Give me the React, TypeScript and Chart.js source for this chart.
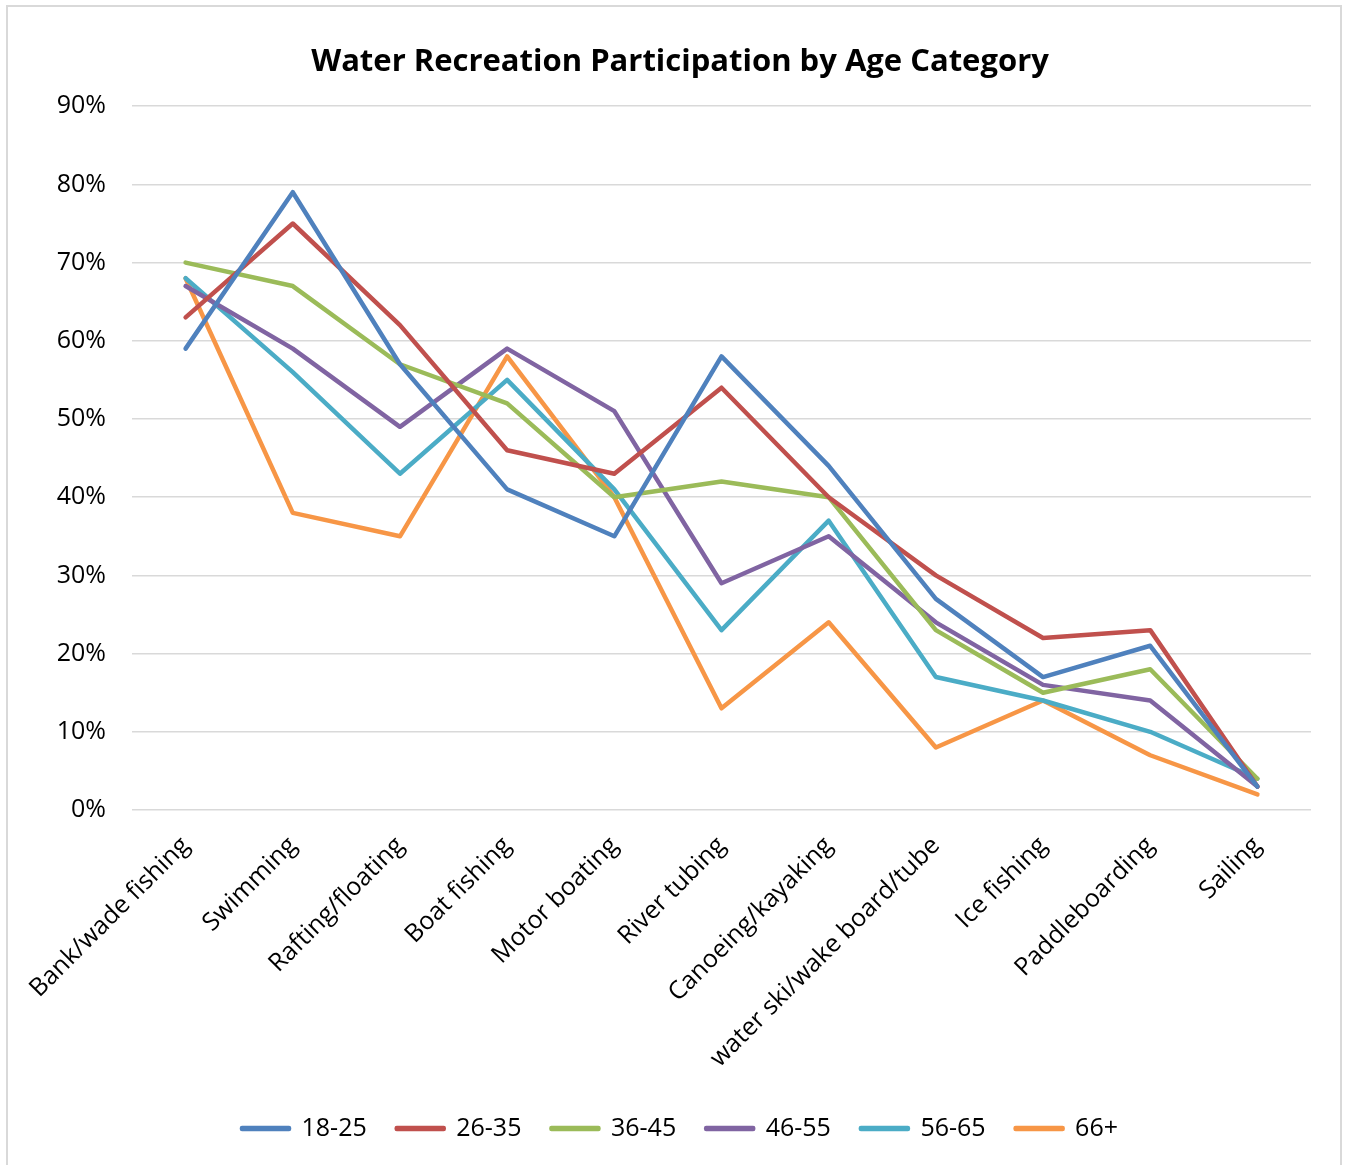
import React, { useEffect, useRef } from "react";
import { Chart, registerables } from "chart.js";

Chart.register(...registerables);

const categories: string[] = [
  "Bank/wade fishing",
  "Swimming",
  "Rafting/floating",
  "Boat fishing",
  "Motor boating",
  "River tubing",
  "Canoeing/kayaking",
  "water ski/wake board/tube",
  "Ice fishing",
  "Paddleboarding",
  "Sailing",
];

const seriesNames: string[] = ["18-25", "26-35", "36-45", "46-55", "56-65", "66+"];

const age18to25: number[] = [59, 79, 57, 41, 35, 58, 44, 27, 17, 21, 3];
const age26to35: number[] = [63, 75, 62, 46, 43, 54, 40, 30, 22, 23, 3];
const age36to45: number[] = [70, 67, 57, 52, 40, 42, 40, 23, 15, 18, 4];
const age46to55: number[] = [67, 59, 49, 59, 51, 29, 35, 24, 16, 14, 3];
const age56to65: number[] = [68, 56, 43, 55, 41, 23, 37, 17, 14, 10, 4];
const age66plus: number[] = [68, 38, 35, 58, 40, 13, 24, 8, 14, 7, 2];

const yTicks: number[] = [0, 10, 20, 30, 40, 50, 60, 70, 80, 90];

const colors: string[] = ["#4F81BD", "#C0504D", "#9BBB59", "#8064A2", "#4BACC6", "#F79646"];

const FONT = "'Open Sans', Lato, sans-serif";

const borderPlugin = {
  id: "outerBorder",
  beforeDraw(chart: any) {
    const ctx = chart.ctx;
    ctx.save();
    ctx.fillStyle = "#ffffff";
    ctx.fillRect(0, 0, chart.width, chart.height);
    ctx.strokeStyle = "#D9D9D9";
    ctx.lineWidth = 2;
    ctx.strokeRect(7, 6, 1334, 1200);
    ctx.restore();
  },
};

export default function App() {
  const ref = useRef<HTMLCanvasElement | null>(null);

  useEffect(() => {
    if (!ref.current) return;
    const all = [age18to25, age26to35, age36to45, age46to55, age56to65, age66plus];
    const chart = new Chart(ref.current, {
      type: "line",
      data: {
        labels: categories,
        datasets: all.map((d, i) => ({
          label: seriesNames[i],
          data: d,
          borderColor: colors[i],
          backgroundColor: colors[i],
          borderWidth: 4.5,
          pointRadius: 0,
          pointHoverRadius: 0,
          tension: 0,
          borderCapStyle: "round" as const,
          borderJoinStyle: "round" as const,
          fill: false,
        })),
      },
      options: {
        responsive: false,
        animation: false,
        devicePixelRatio: 1,
        layout: { padding: { top: 20, left: 49, right: 35, bottom: 14 } },
        plugins: {
          title: {
            display: true,
            text: "Water Recreation Participation by Age Category",
            color: "#000",
            font: { family: FONT, size: 31, weight: "bold", lineHeight: 1.2 },
            padding: { top: 24, bottom: 25 },
          },
          legend: {
            position: "bottom",
            labels: {
              color: "#000",
              font: { family: FONT, size: 25 },
              boxWidth: 47,
              boxHeight: 1,
              padding: 30,
            },
          },
          tooltip: { enabled: false },
        },
        scales: {
          x: {
            offset: true,
            grid: { display: false, drawTicks: false },
            border: { display: false },
            ticks: {
              color: "#000",
              font: { family: FONT, size: 25 },
              minRotation: 45,
              maxRotation: 45,
              autoSkip: false,
              padding: 21,
            },
            afterFit(scale: any) {
              scale.height = 276;
            },
          },
          y: {
            min: 0,
            max: 90,
            afterBuildTicks(scale: any) {
              scale.ticks = yTicks.map((v) => ({ value: v }));
            },
            grid: { color: "#D9D9D9", lineWidth: 1.5, drawTicks: false },
            border: { display: false },
            ticks: {
              color: "#000",
              font: { family: FONT, size: 25 },
              padding: 26,
              callback: (v: any) => `${v}%`,
            },
            afterFit(scale: any) {
              scale.width = 83;
            },
          },
        },
      },
      plugins: [borderPlugin],
    });
    return () => chart.destroy();
  }, []);

  return (
    <div style={{ position: "absolute", left: 0, top: 0, width: 1346, height: 1165 }}>
      <canvas ref={ref} width={1346} height={1165} style={{ display: "block" }} />
    </div>
  );
}
